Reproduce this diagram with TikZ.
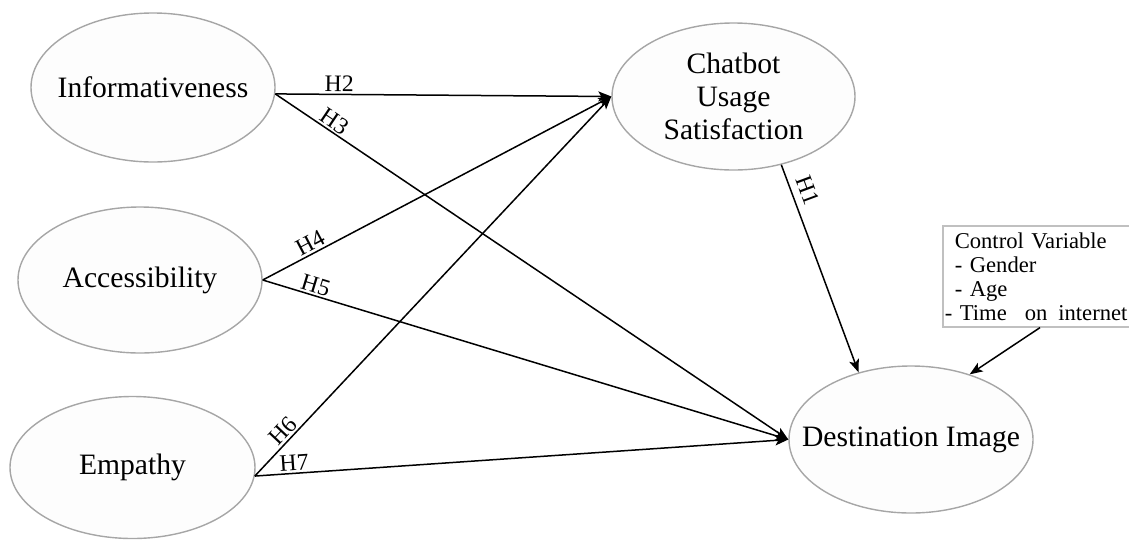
\documentclass[tikz,border=0pt]{standalone}
\usepackage{fontspec}
\setmainfont{Liberation Serif}
\usetikzlibrary{shapes.geometric,arrows.meta}
\definecolor{ellborder}{HTML}{A6A6A6}
\definecolor{ellfill}{HTML}{FDFDFD}
\definecolor{boxborder}{HTML}{C0C0C0}
\tikzset{
  construct/.style={ellipse, draw=ellborder, fill=ellfill, line width=1.4pt,
    inner xsep=-40pt, inner ysep=-20pt,
    font=\fontsize{29.6}{33}\selectfont, align=center},
  arr/.style={line width=1.5pt, -{Stealth[length=13pt,width=10pt,inset=3pt]}},
  lbl/.style={font=\fontsize{23.7}{25}\selectfont, inner sep=2pt, sloped},
  ctrlbox/.style={draw=boxborder, line width=1.6pt, fill=white, align=left,
    font=\fontsize{22.6}{24}\selectfont, inner xsep=12pt, inner ysep=0pt,
    text width=260pt, minimum height=101pt}
}
\begin{document}
\begin{tikzpicture}[x=1pt,y=-1pt]
\useasboundingbox (0,0) rectangle (1129,539);
\node[construct, minimum width=244pt, minimum height=149pt] (inf) at (153,87.5) {Informativeness};
\node[construct, minimum width=244pt, minimum height=146pt] (acc) at (140,280) {Accessibility};
\node[construct, minimum width=245pt, minimum height=142pt] (emp) at (132.5,467.5) {Empathy};
\node[construct, minimum width=243pt, minimum height=147pt] (chat) at (733.5,96.5) {Chatbot\\Usage\\Satisfaction};
\node[construct, minimum width=244pt, minimum height=147pt] (dest) at (911,439.5) {Destination Image};
\node[ctrlbox, anchor=north west] (ctrl) at (942,225) {\rule{0pt}{17pt}Control Variable\\- Gender\\- Age\\\hspace*{-10pt}- Time\hspace{18pt}on\hspace{11pt}internet};

\draw[arr] (inf.-3) -- node[lbl, pos=0.19, above] (h2) {H2} (chat.west);
\draw[arr] (inf.-3) -- node[lbl, pos=0.105, above] (h3) {H3} (dest.west);
\draw[arr] (acc.east) -- node[lbl, pos=0.15, above] (h4) {H4} (chat.west);
\draw[arr] (acc.east) -- node[lbl, pos=0.095, above] (h5) {H5} (dest.west);
\draw[arr] (emp.-4) -- node[lbl, pos=0.1, above] (h6) {H6} (chat.west);
\draw[arr] (emp.-4) -- node[lbl, pos=0.075, above] (h7) {H7} (dest.west);
\draw[arr] (chat.-55) -- node[lbl, pos=0.15, above=5pt] (h1) {H1} (dest.128);
\draw[arr] (ctrl.south -| {1040,0}) -- (dest.48);
\end{tikzpicture}
\end{document}
